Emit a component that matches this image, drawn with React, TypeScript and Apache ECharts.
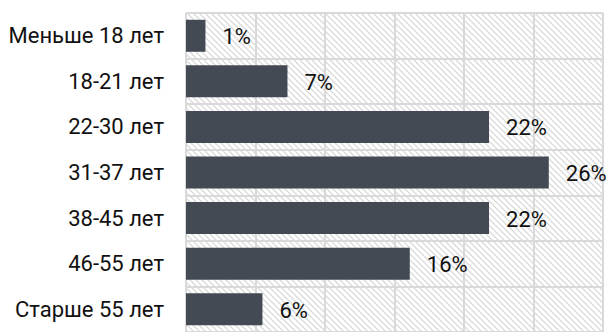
import React, { useEffect, useRef } from "react";
import * as echarts from "echarts";

const categories = [
  "Меньше 18 лет",
  "18-21 лет",
  "22-30 лет",
  "31-37 лет",
  "38-45 лет",
  "46-55 лет",
  "Старше 55 лет",
];
const values = [1.4, 7.3, 21.8, 26.1, 21.8, 16.1, 5.5];
const xTicks = { min: 0, max: 30, interval: 5 };

function makeHatch(): HTMLCanvasElement {
  const s = 6;
  const c = document.createElement("canvas");
  c.width = s;
  c.height = s;
  const ctx = c.getContext("2d")!;
  ctx.fillStyle = "#ffffff";
  ctx.fillRect(0, 0, s, s);
  ctx.strokeStyle = "#dadada";
  ctx.lineWidth = 1.3;
  ctx.beginPath();
  ctx.moveTo(-1, -1);
  ctx.lineTo(s + 1, s + 1);
  ctx.moveTo(-1, s - 1);
  ctx.lineTo(1, s + 1);
  ctx.moveTo(s - 1, -1);
  ctx.lineTo(s + 1, 1);
  ctx.stroke();
  return c;
}

export default function App() {
  const ref = useRef<HTMLDivElement>(null);
  useEffect(() => {
    if (!ref.current) return;
    const chart = echarts.init(ref.current, null, { renderer: "svg" });
    const font = "Roboto";
    chart.setOption({
      animation: false,
      backgroundColor: "#ffffff",
      grid: {
        left: 186,
        right: 3,
        top: 13,
        height: 327,
        show: true,
        borderWidth: 0,
        backgroundColor: { image: makeHatch(), repeat: "repeat" },
        containLabel: false,
      },
      xAxis: {
        type: "value",
        min: xTicks.min,
        max: xTicks.max,
        interval: xTicks.interval,
        axisLabel: { show: false },
        axisLine: { show: false },
        axisTick: { show: false },
        splitLine: { show: true, lineStyle: { color: "#d9d9d9", width: 2 } },
      },
      yAxis: {
        type: "category",
        data: categories,
        inverse: true,
        axisLine: { show: false },
        axisTick: { show: false },
        axisLabel: {
          margin: 22,
          color: "#111111",
          fontFamily: font,
          fontSize: 22,
        },
        splitLine: { show: true, lineStyle: { color: "#d9d9d9", width: 2 } },
      },
      series: [
        {
          type: "bar",
          data: values,
          barWidth: 32,
          itemStyle: { color: "#434a53" },
          label: {
            show: true,
            position: "right",
            distance: 17,
            offset: [0, 1],
            color: "#111111",
            fontFamily: font,
            fontSize: 22,
            formatter: (p: any) => Math.round(p.value) + "%",
          },
        },
      ],
    });
    return () => chart.dispose();
  }, []);
  return (
    <div
      ref={ref}
      style={{ width: 606, height: 332, position: "absolute", left: 0, top: 0 }}
    />
  );
}
